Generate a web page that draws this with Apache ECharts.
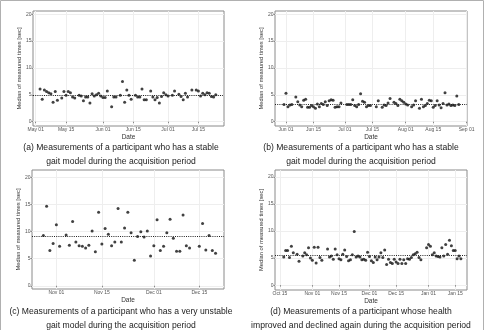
<!DOCTYPE html>
<html>
<head>
<meta charset="utf-8">
<script src="https://cdn.jsdelivr.net/npm/echarts@6/dist/echarts.min.js"></script>
<style>
html, body { margin: 0; padding: 0; background: #fff; }
#chart { width: 484px; height: 330px; }
</style>
</head>
<body>
<div id="chart"></div>
<script>
// (a) stable participant, days counted from May 01
const startA = '2015-05-01';
const dayA = [2,3,4,5,6,7,8,9,10,12,13,14,15,16,17,18,20,21,22,23,24,25,26,27,28,29,30,31,32,33,35,36,37,39,40,41,42,43,44,46,47,48,49,50,51,53,54,55,56,57,58,59,60,61,63,64,66,67,68,69,70,72,74,75,76,77,78,79,80,81,82,83];
const valA = [6.1,4.2,5.9,5.6,5.4,5.2,3.6,5.6,4.0,4.4,5.6,4.9,5.6,5.4,4.6,4.4,4.9,4.8,3.9,4.6,4.6,3.5,5.2,4.8,5.0,5.3,4.8,4.5,4.5,5.7,2.8,4.6,4.6,4.9,7.5,3.6,5.9,4.9,4.2,4.9,4.6,4.6,6.1,4.1,4.1,5.7,4.6,4.1,4.5,3.5,4.7,5.4,5.0,4.8,4.9,5.7,5.1,4.7,4.1,5.3,4.6,5.9,5.9,5.7,4.8,5.3,5.0,5.4,5.3,4.7,4.6,5.0];
const medA = 4.9;
const ticksA = ['2015-05-01','2015-05-15','2015-06-01','2015-06-15','2015-07-01','2015-07-15'];

// (b) stable participant, days counted from Jun 01
const startB = '2015-06-01';
const dayB = [-1,0,1,2,3,5,6,7,8,9,10,11,12,13,14,15,16,17,18,19,20,21,22,23,24,25,26,27,28,31,32,33,34,35,36,37,38,39,40,41,42,43,46,47,49,50,51,52,53,55,56,57,58,59,60,61,62,64,65,66,68,69,70,71,72,73,74,75,76,77,78,79,80,81,82,83,84,85,86,87,88];
const valB = [3.2,5.3,2.8,3.1,3.2,4.6,3.7,3.1,2.8,4.0,4.2,2.7,2.7,3.0,2.8,2.5,3.3,2.8,3.4,3.2,3.7,3.0,3.9,4.1,4.0,2.7,2.8,2.8,3.5,3.2,3.2,3.2,4.1,3.0,2.8,3.2,5.2,3.8,3.6,2.8,3.0,3.0,2.8,3.9,2.7,3.1,3.0,3.5,4.3,3.6,3.4,3.0,4.2,3.9,3.6,3.3,3.1,2.8,3.1,3.9,2.5,4.2,2.8,3.0,3.4,4.0,3.9,2.7,3.0,3.9,3.1,2.6,3.4,5.4,3.1,3.3,3.0,3.1,3.0,4.8,3.2];
const medB = 3.3;
const ticksB = ['2015-06-01','2015-06-15','2015-07-01','2015-07-15','2015-08-01','2015-08-15','2015-09-01'];

// (c) very unstable participant, days counted from Nov 01
const startC = '2014-11-01';
const dayC = [-4,-3,-2,-1,0,1,3,4,5,6,7,8,9,10,11,12,13,14,15,16,17,18,19,20,21,22,23,24,25,26,27,28,29,30,31,32,33,34,35,36,37,38,39,40,41,44,45,46,47,48,49];
const valC = [9.3,14.7,6.5,7.8,11.3,7.3,9.4,7.5,11.9,8.1,7.4,7.3,7.0,7.5,10.1,6.3,13.6,7.7,10.6,9.5,7.4,8.1,14.3,8.1,10.7,13.6,9.8,4.7,9.1,10.0,9.0,10.1,5.5,7.4,12.2,6.5,7.3,9.8,12.3,8.8,6.4,6.4,13.1,7.4,7.0,7.3,11.5,6.6,9.3,6.5,6.0];
const medC = 9.1;
const ticksC = ['2014-11-01','2014-11-15','2014-12-01','2014-12-15'];

// (d) improved then declined, days counted from Oct 15
const startD = '2014-10-15';
const dayD = [2,3,4,5,6,7,9,10,12,13,14,15,16,17,18,19,20,21,22,25,26,27,28,29,30,31,32,33,34,35,36,37,38,39,40,41,42,43,44,45,46,47,48,49,50,51,52,53,54,55,56,57,58,59,60,61,62,63,64,65,66,67,68,69,70,71,72,73,74,77,78,79,80,81,82,83,84,85,86,87,88,89,90,91,92,93,94,95];
const valD = [5.2,6.4,6.4,5.1,7.2,6.0,5.7,4.4,5.4,6.0,5.6,6.9,5.0,4.6,7.0,4.1,7.0,5.1,4.6,6.7,5.2,5.4,4.8,6.7,5.6,4.9,4.7,5.7,6.5,5.3,4.5,4.7,5.6,9.9,5.2,5.4,5.2,4.7,4.8,4.6,6.1,5.3,4.5,4.2,5.2,4.7,5.2,6.0,5.1,6.5,3.8,4.8,4.2,4.0,4.8,4.3,4.0,4.8,4.0,4.7,4.0,4.9,4.8,5.1,5.6,5.8,6.1,5.1,4.7,6.9,7.5,7.2,5.6,6.0,5.4,5.3,5.2,6.9,5.4,7.5,5.7,8.3,7.3,6.4,6.4,4.9,5.4,4.9];
const medD = 5.5;
const ticksD = ['2014-10-15','2014-11-01','2014-11-15','2014-12-01','2014-12-15','2015-01-01','2015-01-15'];

const yTicks = [0, 5, 10, 15, 20];

const captions = [
  ['(a) Measurements of a participant who has a stable', 'gait model during the acquisition period'],
  ['(b) Measurements of a participant who has a stable', 'gait model during the acquisition period'],
  ['(c) Measurements of a participant who has a very unstable', 'gait model during the acquisition period'],
  ['(d) Measurements of a participant whose health', 'improved and declined again during the acquisition period']
];

const MONTHS = ['Jan','Feb','Mar','Apr','May','Jun','Jul','Aug','Sep','Oct','Nov','Dec'];

function toTime(s, offset) {
  const p = s.split('-').map(Number);
  return new Date(p[0], p[1] - 1, p[2]).getTime() + (offset || 0) * 86400000;
}
function fmtDate(v) {
  const d = new Date(v + 43200000);
  return MONTHS[d.getMonth()] + ' ' + String(d.getDate()).padStart(2, '0');
}

// layout of each panel: grid box in px, x range in days from start, y range
const panels = [
  { start: startA, day: dayA, val: valA, med: medA, ticks: ticksA, box: [33, 11, 191, 115], xr: [-1.25, 86.8], yr: [-0.8, 20.6], cap: [121, 148] },
  { start: startB, day: dayB, val: valB, med: medB, ticks: ticksB, box: [275, 11, 192, 115], xr: [-5.6, 92.2], yr: [-0.8, 20.6], cap: [361, 148] },
  { start: startC, day: dayC, val: valC, med: medC, ticks: ticksC, box: [32, 170, 192, 119], xr: [-7.5, 51.6], yr: [-0.6, 21.4], cap: [121, 312] },
  { start: startD, day: dayD, val: valD, med: medD, ticks: ticksD, box: [275, 170, 192, 120], xr: [-2.6, 98.2], yr: [-0.9, 21.3], cap: [361, 312] }
];

const font = 'Liberation Sans';
const grid = [], xAxis = [], yAxis = [], series = [], graphic = [];

panels.forEach((p, i) => {
  const tickTimes = p.ticks.map(t => toTime(t));
  grid.push({
    left: p.box[0], top: p.box[1], width: p.box[2], height: p.box[3],
    show: true, borderColor: '#8a8a8a', borderWidth: 1, backgroundColor: '#fff'
  });
  xAxis.push({
    type: 'value', gridIndex: i,
    min: toTime(p.start, p.xr[0]), max: toTime(p.start, p.xr[1]),
    name: 'Date', nameLocation: 'middle', nameGap: 4,
    nameTextStyle: { fontSize: 6.5, color: '#333', fontFamily: font },
    axisLine: { show: false },
    axisTick: { show: true, length: 1.5, lineStyle: { color: '#888' }, customValues: tickTimes },
    axisLabel: {
      fontSize: 5, color: '#555', fontFamily: font, margin: 1.5,
      customValues: tickTimes, formatter: fmtDate, hideOverlap: false
    },
    splitLine: { show: true, lineStyle: { color: '#eeeeee', width: 1 } }
  });
  yAxis.push({
    type: 'value', gridIndex: i, min: p.yr[0], max: p.yr[1],
    name: 'Median of measured times [sec]', nameLocation: 'middle', nameGap: 9,
    nameTextStyle: { fontSize: 5.8, color: '#333', fontFamily: font },
    axisLine: { show: false },
    axisTick: { show: true, length: 1.5, lineStyle: { color: '#888' }, customValues: yTicks },
    axisLabel: { fontSize: 5, color: '#555', fontFamily: font, margin: 1.5, customValues: yTicks },
    splitLine: { show: true, lineStyle: { color: '#eeeeee', width: 1 } }
  });
  series.push({
    type: 'scatter', xAxisIndex: i, yAxisIndex: i,
    data: p.day.map((d, k) => [toTime(p.start, d), p.val[k]]),
    symbol: 'circle', symbolSize: 3,
    itemStyle: { color: '#111' },
    markLine: {
      silent: true, symbol: 'none', label: { show: false },
      lineStyle: { type: [1, 1.2], color: '#222', width: 1 },
      data: [{ yAxis: p.med }]
    }
  });
  graphic.push({
    type: 'text', x: p.cap[0], y: p.cap[1],
    style: { text: captions[i][0], font: '8.6px "' + font + '"', fill: '#222', textAlign: 'center', textVerticalAlign: 'middle' }
  });
  graphic.push({
    type: 'text', x: p.cap[0], y: p.cap[1] + 13.7,
    style: { text: captions[i][1], font: '8.6px "' + font + '"', fill: '#222', textAlign: 'center', textVerticalAlign: 'middle' }
  });
});

// thin frame round the figure
graphic.push({
  type: 'rect', shape: { x: 0.5, y: 0.5, width: 483, height: 340 },
  style: { fill: 'none', stroke: '#b0b0b0', lineWidth: 1 }, z: -1
});

const myChart = echarts.init(document.getElementById('chart'));
myChart.setOption({
  animation: false,
  grid, xAxis, yAxis, series, graphic
});
</script>
</body>
</html>
